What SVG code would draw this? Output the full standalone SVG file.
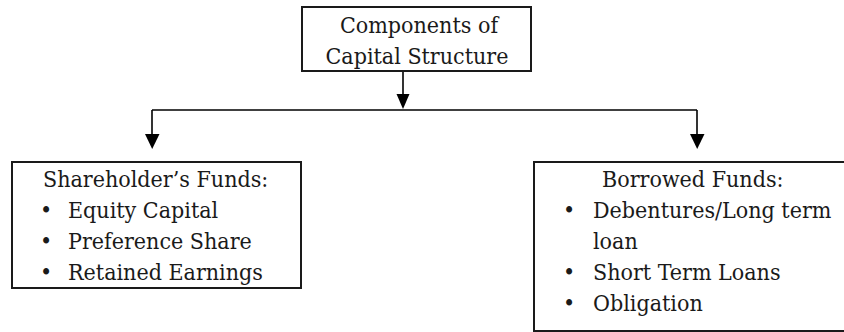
<svg xmlns="http://www.w3.org/2000/svg" width="844" height="332" viewBox="0 0 844 332">
  <defs>
    <style>
      .box { fill: #ffffff; stroke: #1a1a1a; stroke-width: 2; }
      .line { fill: none; stroke: #000000; stroke-width: 1.6; }
      .arrow { fill: #000000; }
      .t { font-family: 'DejaVu Serif Condensed', 'DejaVu Serif', serif; font-stretch: condensed; font-size: 23px; fill: #1a1a1a; }
      .c { text-anchor: middle; }
    </style>
  </defs>
  <rect width="844" height="332" fill="#ffffff"/>

  <!-- connectors -->
  <g id="connectors">
    <path class="line" d="M403 71 V96"/>
    <path class="arrow" d="M396.5 94 H409.5 L403 109 Z"/>
    <path class="line" d="M152 110 H697"/>
    <path class="line" d="M152 110 V136"/>
    <path class="arrow" d="M145 134 H159.5 L152.2 149 Z"/>
    <path class="line" d="M697 110 V136"/>
    <path class="arrow" d="M690 134 H704.5 L697.2 149 Z"/>
  </g>

  <!-- root node -->
  <g id="node-root">
    <rect class="box" x="302" y="7" width="229" height="64"/>
    <text class="t c" x="419" y="33">Components of</text>
    <text class="t c" x="417" y="64">Capital Structure</text>
  </g>

  <!-- shareholder's funds -->
  <g id="node-shareholders">
    <rect class="box" x="12" y="162" width="289" height="126"/>
    <text class="t" x="43" y="187">Shareholder’s Funds:</text>
    <text class="t" x="40" y="218">•</text>
    <text class="t" x="68" y="218">Equity Capital</text>
    <text class="t" x="40" y="249">•</text>
    <text class="t" x="68" y="249">Preference Share</text>
    <text class="t" x="40" y="280">•</text>
    <text class="t" x="68" y="280">Retained Earnings</text>
  </g>

  <!-- borrowed funds -->
  <g id="node-borrowed">
    <rect class="box" x="534" y="162" width="320" height="169"/>
    <text class="t" x="602" y="187">Borrowed Funds:</text>
    <text class="t" x="563" y="218">•</text>
    <text class="t" x="593" y="218">Debentures/Long term</text>
    <text class="t" x="593" y="249">loan</text>
    <text class="t" x="563" y="280">•</text>
    <text class="t" x="593" y="280">Short Term Loans</text>
    <text class="t" x="563" y="311">•</text>
    <text class="t" x="593" y="311">Obligation</text>
  </g>
</svg>
